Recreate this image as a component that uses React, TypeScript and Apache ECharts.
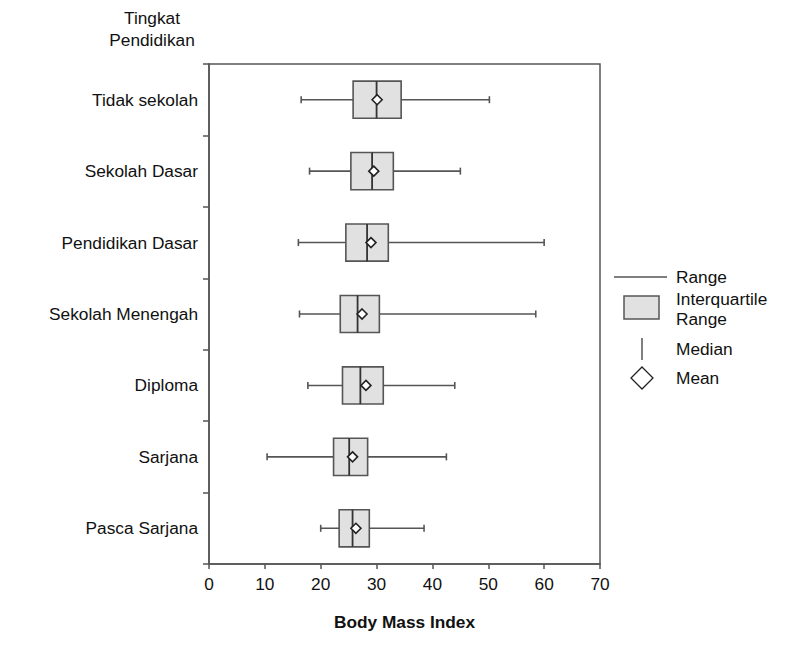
import React, { useEffect, useRef } from "react";
import * as echarts from "echarts";

const categories = [
  "Tidak sekolah",
  "Sekolah Dasar",
  "Pendidikan Dasar",
  "Sekolah Menengah",
  "Diploma",
  "Sarjana",
  "Pasca Sarjana",
];
// box statistics per category
const rangeLow = [16.5, 18.0, 16.0, 16.2, 17.7, 10.4, 20.0];
const q1Values = [25.8, 25.4, 24.5, 23.5, 23.9, 22.3, 23.3];
const medianValues = [30.0, 29.2, 28.3, 26.6, 27.1, 25.1, 25.7];
const q3Values = [34.4, 33.0, 32.1, 30.5, 31.2, 28.4, 28.7];
const rangeHigh = [50.2, 45.0, 60.0, 58.5, 44.0, 42.5, 38.5];
const meanValues = [30.1, 29.5, 29.0, 27.4, 28.1, 25.7, 26.3];
const xTicks = [0, 10, 20, 30, 40, 50, 60, 70];

const FONT = "'Liberation Sans', Arial, Helvetica, sans-serif";
const FS = 17.3;
const LINE = "#555";
const TEXT = "#111";

export default function App() {
  const ref = useRef<HTMLDivElement>(null);
  useEffect(() => {
    if (!ref.current) return;
    const chart = echarts.init(ref.current, undefined, { renderer: "svg" });
    const data = categories.map((c, i) => [
      i,
      rangeLow[i],
      q1Values[i],
      medianValues[i],
      q3Values[i],
      rangeHigh[i],
      meanValues[i],
    ]);
    const renderItem = (params: any, api: any) => {
      const ci = api.value(0);
      const pLow = api.coord([api.value(1), ci]);
      const pQ1 = api.coord([api.value(2), ci]);
      const pMed = api.coord([api.value(3), ci]);
      const pQ3 = api.coord([api.value(4), ci]);
      const pHigh = api.coord([api.value(5), ci]);
      const pMean = api.coord([api.value(6), ci]);
      const band = api.size([0, 1])[1];
      const h = band * 0.52;
      const cy = pQ1[1];
      const cap = 3.5;
      const d = 5;
      const ls = { stroke: LINE, lineWidth: 1.6 };
      return {
        type: "group",
        children: [
          { type: "line", shape: { x1: pLow[0], y1: cy, x2: pHigh[0], y2: cy }, style: ls },
          { type: "line", shape: { x1: pLow[0], y1: cy - cap, x2: pLow[0], y2: cy + cap }, style: ls },
          { type: "line", shape: { x1: pHigh[0], y1: cy - cap, x2: pHigh[0], y2: cy + cap }, style: ls },
          {
            type: "rect",
            shape: { x: pQ1[0], y: cy - h / 2, width: pQ3[0] - pQ1[0], height: h },
            style: { fill: "#e1e1e1", stroke: LINE, lineWidth: 1.6 },
          },
          {
            type: "line",
            shape: { x1: pMed[0], y1: cy - h / 2, x2: pMed[0], y2: cy + h / 2 },
            style: { stroke: "#333", lineWidth: 1.8 },
          },
          {
            type: "polygon",
            shape: {
              points: [
                [pMean[0], cy - d],
                [pMean[0] + d, cy],
                [pMean[0], cy + d],
                [pMean[0] - d, cy],
              ],
            },
            style: { fill: "#fff", stroke: "#222", lineWidth: 1.6 },
          },
        ],
      };
    };
    const legendText = (x: number, y: number, t: string) => ({
      type: "text",
      x,
      y,
      style: { text: t, fontSize: FS, fontFamily: FONT, fill: TEXT, verticalAlign: "middle" },
    });
    chart.setOption({
      animation: false,
      backgroundColor: "#fff",
      grid: {
        left: 209,
        right: 200,
        top: 64,
        bottom: 81,
        show: true,
        borderColor: LINE,
        borderWidth: 1.5,
      },
      xAxis: {
        type: "value",
        min: 0,
        max: 70,
        interval: 10,
        name: "Body Mass Index",
        nameLocation: "middle",
        nameGap: 49,
        nameTextStyle: { fontSize: FS, fontWeight: "bold", fontFamily: FONT, color: TEXT },
        axisLine: { show: true, lineStyle: { color: LINE, width: 1.5 } },
        axisTick: { show: true, length: 5, lineStyle: { color: LINE, width: 1.5 } },
        axisLabel: {
          fontSize: FS,
          fontFamily: FONT,
          color: TEXT,
          margin: 11,
          formatter: (v: number) => (xTicks.includes(v) ? String(v) : ""),
        },
        splitLine: { show: false },
      },
      yAxis: {
        type: "category",
        data: categories,
        inverse: true,
        axisLine: { show: true, lineStyle: { color: LINE, width: 1.5 } },
        axisTick: { show: true, length: 6, lineStyle: { color: LINE, width: 1.5 } },
        axisLabel: { fontSize: FS, fontFamily: FONT, color: TEXT, margin: 11 },
        splitLine: { show: false },
      },
      series: [
        {
          type: "custom",
          renderItem,
          data,
          encode: { x: [1, 2, 3, 4, 5, 6], y: 0 },
          clip: false,
        },
      ],
      graphic: [
        {
          type: "text",
          x: 152,
          y: 7,
          style: {
            text: "Tingkat\nPendidikan",
            fontSize: FS,
            lineHeight: 22,
            fontFamily: FONT,
            fill: TEXT,
            align: "center",
          },
        },
        { type: "line", shape: { x1: 614, y1: 277, x2: 667, y2: 277 }, style: { stroke: LINE, lineWidth: 1.5 } },
        legendText(676, 277, "Range"),
        {
          type: "rect",
          shape: { x: 624, y: 296, width: 35, height: 23 },
          style: { fill: "#e1e1e1", stroke: LINE, lineWidth: 1.5 },
        },
        legendText(676, 299, "Interquartile"),
        legendText(676, 319, "Range"),
        { type: "line", shape: { x1: 642, y1: 338, x2: 642, y2: 360 }, style: { stroke: LINE, lineWidth: 1.5 } },
        legendText(676, 349, "Median"),
        {
          type: "polygon",
          shape: { points: [[642, 367], [653, 378], [642, 389], [631, 378]] },
          style: { fill: "#fff", stroke: "#222", lineWidth: 1.3 },
        },
        legendText(676, 378, "Mean"),
      ],
    });
    return () => chart.dispose();
  }, []);
  return (
    <div
      ref={ref}
      style={{ position: "absolute", left: 0, top: 0, width: 800, height: 645 }}
    />
  );
}
